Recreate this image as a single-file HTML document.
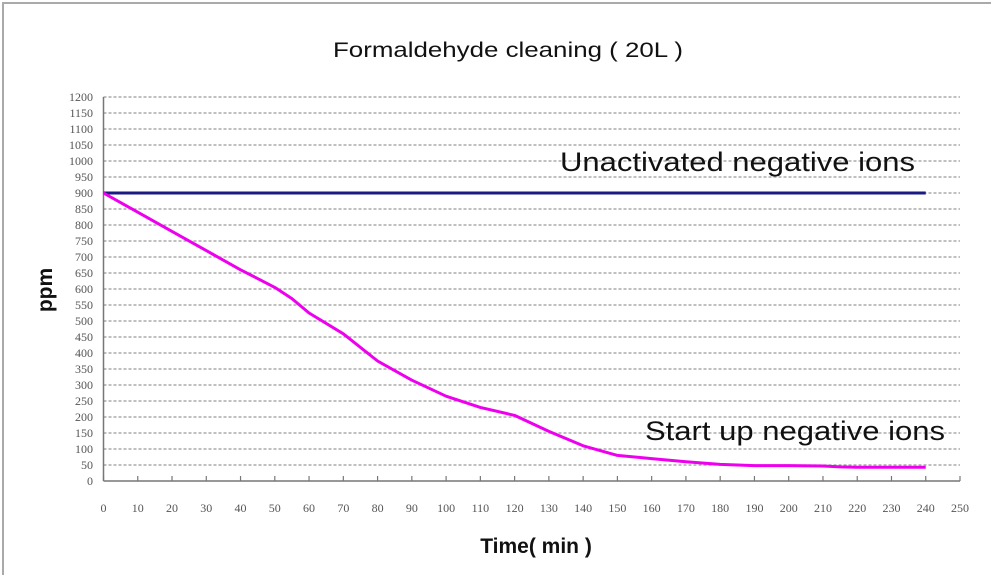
<!DOCTYPE html>
<html><head><meta charset="utf-8"><style>
body{margin:0;background:#fff;}
svg{display:block;font-family:"Liberation Sans",sans-serif;}
</style></head><body>
<svg id="c" width="991" height="575">
<rect x="3" y="3" width="1000" height="600" fill="none" stroke="#aaa" stroke-width="2"/>
<text x="333" y="57" textLength="350" lengthAdjust="spacingAndGlyphs" font-size="21" fill="#111">Formaldehyde cleaning ( 20L )</text>
<g id="grid"></g><g id="axes"></g><g id="series"></g>
<text x="560" y="171" textLength="355" lengthAdjust="spacingAndGlyphs" font-size="27" fill="#111">Unactivated negative ions</text>
<text x="645" y="440" textLength="300" lengthAdjust="spacingAndGlyphs" font-size="27" fill="#111">Start up negative ions</text>
<text transform="translate(52,290) rotate(-90)" text-anchor="middle" font-size="21" font-weight="bold" fill="#111">ppm</text>
<text x="536" y="553" text-anchor="middle" font-size="21" font-weight="bold" fill="#111">Time( min )</text>
</svg>
<script>
const xTicks=[0,10,20,30,40,50,60,70,80,90,100,110,120,130,140,150,160,170,180,190,200,210,220,230,240,250];
const yTicks=[0,50,100,150,200,250,300,350,400,450,500,550,600,650,700,750,800,850,900,950,1000,1050,1100,1150,1200];
const startTimes=[0,10,20,30,40,50,55,60,70,80,90,100,110,120,130,140,150,160,170,180,190,200,210,215,220,230,240];
const startValues=[900,840,780,720,660,605,570,525,460,375,315,265,230,205,155,110,80,70,60,52,48,48,47,44,43,43,43];
const unactTimes=[0,240];
const unactValues=[900,900];
const X=v=>103.5+v*(960-103.5)/250;
const Y=v=>481-v*0.32;
const NS="http://www.w3.org/2000/svg";
function mk(t,a,p){const e=document.createElementNS(NS,t);for(const k in a)e.setAttribute(k,a[k]);p.appendChild(e);return e;}
const grid=document.getElementById('grid'),axes=document.getElementById('axes'),ser=document.getElementById('series');
yTicks.forEach(v=>{
 if(v>0){const l=mk('line',{x1:X(0),x2:X(250),y1:Y(v),y2:Y(v),stroke:'#999','stroke-width':1.3,'stroke-dasharray':'3,2'},grid);
 
 }
 const t=mk('text',{x:93,y:Y(v)+4,'text-anchor':'end','font-size':12,fill:'#555','font-family':'Liberation Serif, serif'},axes);
 t.textContent=v;
 
 
});
xTicks.forEach(v=>{
 const k=mk('line',{x1:X(v),x2:X(v),y1:Y(0),y2:Y(0)-5,stroke:'#777','stroke-width':1.2},axes);
 
 
 const t=mk('text',{x:X(v),y:512,'text-anchor':'middle','font-size':12,fill:'#555','font-family':'Liberation Serif, serif'},axes);
 t.textContent=v;
 
 
});
const ya=mk('line',{x1:X(0),x2:X(0),y1:Y(1200),y2:Y(0),stroke:'#777','stroke-width':1.5},axes);


const xa=mk('line',{x1:X(0),x2:X(250),y1:Y(0),y2:Y(0),stroke:'#777','stroke-width':1.5},axes);


const p1=mk('polyline',{points:unactTimes.map((t,i)=>X(t)+','+Y(unactValues[i])).join(' '),fill:'none',stroke:'#1a1a80','stroke-width':3},ser);


const p2=mk('polyline',{points:startTimes.map((t,i)=>X(t)+','+Y(startValues[i])).join(' '),fill:'none',stroke:'#ee00ee','stroke-width':3,'stroke-linejoin':'round'},ser);


</script>
</body></html>
